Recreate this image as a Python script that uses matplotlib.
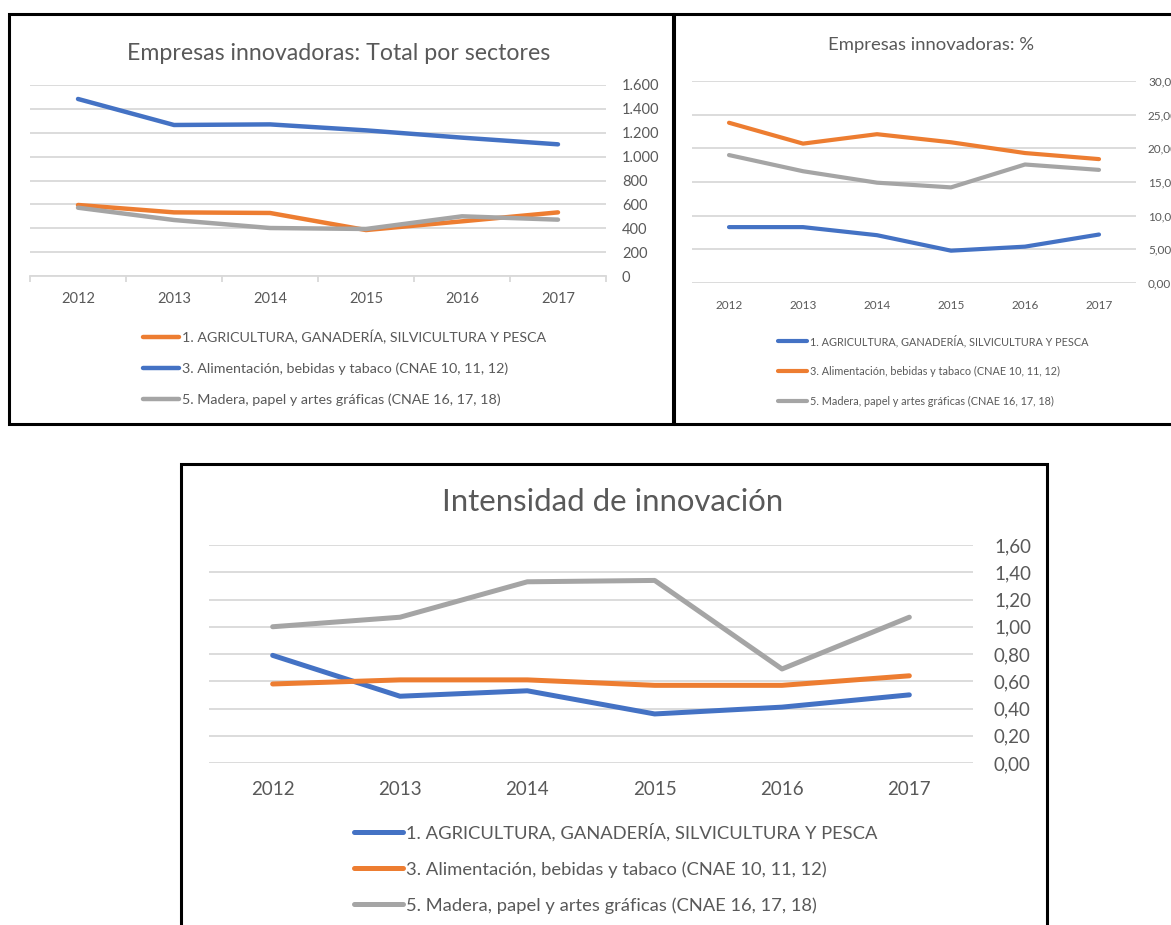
import matplotlib
matplotlib.use("Agg")
import matplotlib.pyplot as plt
from matplotlib.patches import Rectangle

plt.rcParams["font.family"] = ["Lato", "DejaVu Sans"]

# Data
years = ["2012", "2013", "2014", "2015", "2016", "2017"]
sectors = [
    "1. AGRICULTURA, GANADERÍA, SILVICULTURA Y PESCA",
    "3. Alimentación, bebidas y tabaco (CNAE 10, 11, 12)",
    "5. Madera, papel y artes gráficas (CNAE 16, 17, 18)",
]

total_agri = [595, 533, 528, 385, 458, 533]
total_alim = [1483, 1265, 1270, 1220, 1159, 1103]
total_madera = [572, 469, 402, 394, 500, 472]

pct_agri = [8.3, 8.3, 7.1, 4.8, 5.4, 7.2]
pct_alim = [23.8, 20.7, 22.1, 20.9, 19.3, 18.4]
pct_madera = [19.0, 16.6, 14.9, 14.2, 17.6, 16.8]

int_agri = [0.79, 0.49, 0.53, 0.36, 0.41, 0.50]
int_alim = [0.58, 0.61, 0.61, 0.57, 0.57, 0.64]
int_madera = [1.00, 1.07, 1.33, 1.34, 0.69, 1.07]

total_ticks = [0, 200, 400, 600, 800, 1000, 1200, 1400, 1600]
total_tick_labels = ["0", "200", "400", "600", "800", "1.000", "1.200", "1.400", "1.600"]
pct_ticks = [0, 5, 10, 15, 20, 25, 30]
pct_tick_labels = ["0,00", "5,00", "10,00", "15,00", "20,00", "25,00", "30,00"]
int_ticks = [0, 0.2, 0.4, 0.6, 0.8, 1.0, 1.2, 1.4, 1.6]
int_tick_labels = ["0,00", "0,20", "0,40", "0,60", "0,80", "1,00", "1,20", "1,40", "1,60"]

BLUE = "#4472C4"
ORANGE = "#ED7D31"
GRAY = "#A5A5A5"
TEXT = "#595959"
GRID = "#D9D9D9"

W, H = 1171, 925
PT = 72 / 100  # points per pixel at dpi 100

fig = plt.figure(figsize=(W / 100, H / 100), dpi=100)


def fx(x):
    return x / W


def fy(y):
    return 1 - y / H


def panel(box, plot, title, title_xy, title_fs, series, colors, ticks, tick_labels,
          lw, tick_fs, ypad, xpad, leg_xy, leg_fs, leg_pitch, handle_px, cat_ticks=False):
    # black frame around the chart (pixel coordinates of the screenshot)
    x0, y0, x1, y1 = box
    fig.add_artist(Rectangle((fx(x0), fy(y1)), fx(x1 - x0), (y1 - y0) / H,
                             transform=fig.transFigure, fill=False,
                             edgecolor="black", linewidth=2.2))
    fig.text(fx(title_xy[0]), fy(title_xy[1]), title, ha="center", va="center",
             fontsize=title_fs, color=TEXT)

    px0, py0, px1, py1 = plot
    ax = fig.add_axes([fx(px0), fy(py1), fx(px1 - px0), (py1 - py0) / H])
    xs = range(len(years))
    handles = []
    for vals, col, name in zip(series, colors, sectors):
        (ln,) = ax.plot(xs, vals, color=col, linewidth=lw, label=name,
                        solid_capstyle="round", solid_joinstyle="round")
        handles.append(ln)

    ax.set_xlim(-0.5, len(years) - 0.5)
    ax.set_ylim(ticks[0], ticks[-1])
    ax.set_xticks(list(xs))
    ax.set_xticklabels(years)
    ax.set_yticks(ticks)
    ax.set_yticklabels(tick_labels)
    ax.yaxis.tick_right()
    ax.tick_params(axis="y", length=0, pad=ypad, labelsize=tick_fs, labelcolor=TEXT)
    ax.tick_params(axis="x", length=0, pad=xpad, labelsize=tick_fs, labelcolor=TEXT)
    for lab in ax.get_yticklabels():
        lab.set_ha("left")
    ax.grid(axis="y", color=GRID, linewidth=1.3)
    ax.set_axisbelow(True)
    for s in ax.spines.values():
        s.set_visible(False)
    if cat_ticks:
        ax.spines["bottom"].set_visible(True)
        ax.spines["bottom"].set_color(GRID)
        ax.spines["bottom"].set_linewidth(1.3)
        ax.set_xticks([i - 0.5 for i in range(len(years) + 1)], minor=True)
        ax.tick_params(axis="x", which="minor", length=4, width=1.3, color=GRID,
                       direction="out")

    fs_px = leg_fs / PT
    ax.legend(handles=handles, loc="upper left",
              bbox_to_anchor=(fx(leg_xy[0]), fy(leg_xy[1] - 0.42 * fs_px)),
              bbox_transform=fig.transFigure, frameon=False, fontsize=leg_fs,
              labelcolor=TEXT, borderpad=0, borderaxespad=0,
              handlelength=handle_px / fs_px, handletextpad=3 / fs_px,
              labelspacing=(leg_pitch - 0.92 * fs_px) / fs_px)
    return ax


# Empresas innovadoras: Total por sectores
panel((9, 14, 673, 424), (30, 85, 606, 276),
      "Empresas innovadoras: Total por sectores", (339, 53), 16.7,
      [total_agri, total_alim, total_madera], [ORANGE, BLUE, GRAY],
      total_ticks, total_tick_labels, 3.2, 10.5, 16 * PT, 16 * PT,
      (143, 336), 10.25, 31.5, 36, cat_ticks=True)

# Empresas innovadoras: %
panel((674, 14, 1185, 424), (692, 81, 1136, 283),
      "Empresas innovadoras: %", (931, 45), 13.3,
      [pct_agri, pct_alim, pct_madera], [BLUE, ORANGE, GRAY],
      pct_ticks, pct_tick_labels, 3.0, 8.5, 12 * PT, 17 * PT,
      (778, 339), 7.85, 29, 29)

# Intensidad de innovación
panel((181, 464, 1047, 940), (209, 545, 973, 763),
      "Intensidad de innovación", (613, 502), 22.4,
      [int_agri, int_alim, int_madera], [BLUE, ORANGE, GRAY],
      int_ticks, int_tick_labels, 3.6, 13.5, 21 * PT, 18 * PT,
      (354, 831), 13.25, 36.5, 49)

fig.savefig("out.png", dpi=100)
